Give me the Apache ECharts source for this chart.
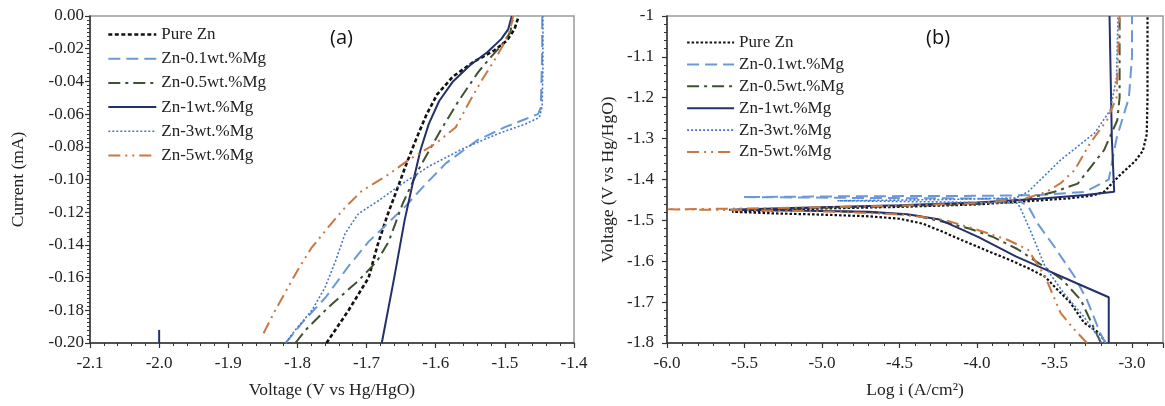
<!DOCTYPE html>
<html><head><meta charset="utf-8">
<script src="https://cdn.jsdelivr.net/npm/echarts@6/dist/echarts.min.js"></script>
<style>html,body{margin:0;padding:0;background:#fff}#c{width:1165px;height:406px}</style>
</head><body><div id="c"></div>
<script>
// ---- names ----
const seriesNames = ['Pure Zn','Zn-0.1wt.%Mg','Zn-0.5wt.%Mg','Zn-1wt.%Mg','Zn-3wt.%Mg','Zn-5wt.%Mg'];
// ---- panel (a): [voltage, current] ----
const a_pureZn = [[-1.758,-0.200],[-1.726,-0.180],[-1.697,-0.160],[-1.684,-0.140],[-1.670,-0.122],[-1.655,-0.105],[-1.642,-0.090],[-1.628,-0.075],[-1.613,-0.060],[-1.598,-0.048],[-1.575,-0.037],[-1.545,-0.028],[-1.515,-0.021],[-1.497,-0.015],[-1.486,-0.008],[-1.480,0]];
const a_zn01 = [[-1.817,-0.200],[-1.794,-0.188],[-1.759,-0.172],[-1.726,-0.153],[-1.697,-0.138],[-1.670,-0.127],[-1.643,-0.116],[-1.615,-0.103],[-1.585,-0.090],[-1.540,-0.076],[-1.500,-0.068],[-1.470,-0.063],[-1.452,-0.060],[-1.448,-0.056],[-1.447,-0.040],[-1.446,-0.020],[-1.446,0]];
const a_zn05 = [[-1.803,-0.200],[-1.788,-0.192],[-1.755,-0.178],[-1.712,-0.162],[-1.685,-0.150],[-1.668,-0.138],[-1.648,-0.115],[-1.625,-0.094],[-1.593,-0.070],[-1.567,-0.052],[-1.538,-0.034],[-1.520,-0.025],[-1.505,-0.018],[-1.492,-0.010],[-1.488,0]];
const a_zn1 = [[-1.678,-0.200],[-1.660,-0.160],[-1.645,-0.125],[-1.632,-0.100],[-1.622,-0.082],[-1.610,-0.066],[-1.595,-0.052],[-1.575,-0.040],[-1.550,-0.030],[-1.525,-0.022],[-1.505,-0.014],[-1.495,-0.008],[-1.490,0]];
const a_zn1mark = [[-2.000,-0.200],[-2.000,-0.192]];
const a_zn3 = [[-1.817,-0.200],[-1.803,-0.192],[-1.779,-0.180],[-1.760,-0.166],[-1.745,-0.150],[-1.731,-0.133],[-1.712,-0.121],[-1.683,-0.113],[-1.650,-0.103],[-1.610,-0.092],[-1.560,-0.081],[-1.510,-0.072],[-1.470,-0.066],[-1.450,-0.062],[-1.446,-0.055],[-1.445,-0.030],[-1.445,0]];
const a_zn5 = [[-1.849,-0.194],[-1.832,-0.180],[-1.815,-0.167],[-1.799,-0.155],[-1.780,-0.142],[-1.755,-0.129],[-1.733,-0.118],[-1.707,-0.107],[-1.672,-0.098],[-1.639,-0.088],[-1.600,-0.078],[-1.571,-0.068],[-1.552,-0.053],[-1.533,-0.039],[-1.515,-0.027],[-1.500,-0.016],[-1.492,-0.008],[-1.488,0]];
// ---- panel (b): [log i, voltage] ----
const b_pureZn = [[-3.17,-1.80],[-3.21,-1.776],[-3.31,-1.75],[-3.40,-1.70],[-3.48,-1.67],[-3.56,-1.638],[-3.68,-1.615],[-3.80,-1.595],[-3.95,-1.572],[-4.10,-1.548],[-4.22,-1.528],[-4.35,-1.508],[-4.50,-1.496],[-4.70,-1.490],[-5.00,-1.486],[-5.30,-1.483],[-5.58,-1.479],[-5.30,-1.475],[-5.00,-1.471],[-4.50,-1.467],[-4.00,-1.461],[-3.67,-1.453],[-3.40,-1.446],[-3.25,-1.439],[-3.18,-1.430],[-3.08,-1.390],[-2.98,-1.355],[-2.93,-1.330],[-2.905,-1.290],[-2.90,-1.20],[-2.90,-1.00]];
const b_zn01 = [[-3.17,-1.80],[-3.205,-1.776],[-3.29,-1.695],[-3.37,-1.638],[-3.50,-1.565],[-3.61,-1.507],[-3.67,-1.465],[-3.75,-1.448],[-4.2,-1.446],[-4.8,-1.445],[-5.51,-1.443],[-4.8,-1.441],[-4.0,-1.440],[-3.6,-1.438],[-3.3,-1.43],[-3.15,-1.40],[-3.10,-1.30],[-3.06,-1.25],[-3.02,-1.20],[-3.0,-1.10],[-3.0,-1.00]];
const b_zn05 = [[-3.20,-1.80],[-3.24,-1.768],[-3.33,-1.695],[-3.45,-1.645],[-3.60,-1.605],[-3.74,-1.570],[-3.90,-1.540],[-4.05,-1.520],[-4.20,-1.505],[-4.40,-1.488],[-4.70,-1.480],[-5.1,-1.476],[-5.55,-1.474],[-5.1,-1.470],[-4.6,-1.466],[-4.0,-1.460],[-3.7,-1.450],[-3.50,-1.43],[-3.35,-1.41],[-3.18,-1.328],[-3.095,-1.255],[-3.08,-1.20],[-3.08,-1.00]];
const b_zn1 = [[-3.15,-1.80],[-3.15,-1.688],[-3.35,-1.655],[-3.56,-1.620],[-3.75,-1.588],[-3.99,-1.541],[-4.10,-1.522],[-4.25,-1.497],[-4.45,-1.485],[-4.70,-1.479],[-5.2,-1.476],[-5.6,-1.474],[-5.2,-1.470],[-4.5,-1.463],[-4.0,-1.456],[-3.6,-1.447],[-3.3,-1.438],[-3.115,-1.430],[-3.13,-1.30],[-3.145,-1.00]];
const b_zn3 = [[-3.20,-1.80],[-3.205,-1.792],[-3.31,-1.736],[-3.44,-1.678],[-3.56,-1.614],[-3.65,-1.530],[-3.72,-1.470],[-3.74,-1.458],[-4.2,-1.455],[-4.9,-1.452],[-4.2,-1.449],[-3.75,-1.445],[-3.67,-1.430],[-3.46,-1.352],[-3.24,-1.286],[-3.14,-1.230],[-3.10,-1.15],[-3.09,-1.00]];
const b_zn5 = [[-3.29,-1.80],[-3.37,-1.768],[-3.46,-1.727],[-3.56,-1.638],[-3.67,-1.572],[-3.80,-1.548],[-3.99,-1.524],[-4.21,-1.499],[-4.5,-1.485],[-5.0,-1.478],[-5.5,-1.475],[-6.0,-1.473],[-5.5,-1.471],[-5.0,-1.468],[-4.5,-1.464],[-4.0,-1.458],[-3.7,-1.448],[-3.55,-1.430],[-3.46,-1.409],[-3.37,-1.377],[-3.27,-1.311],[-3.16,-1.254],[-3.10,-1.20],[-3.09,-1.10],[-3.08,-1.00]];

// ---- styles ----
const styles = {
  'Pure Zn':      {color:'#111111', width:2.6, type:[4,2.5]},
  'Zn-0.1wt.%Mg': {color:'#6b98d6', width:2,   type:[12,6]},
  'Zn-0.5wt.%Mg': {color:'#3f5230', width:2,   type:[12,5,3,5]},
  'Zn-1wt.%Mg':   {color:'#24306a', width:2,   type:'solid'},
  'Zn-3wt.%Mg':   {color:'#4677c8', width:1.6, type:[2,2]},
  'Zn-5wt.%Mg':   {color:'#c87840', width:2,   type:[12,5,2,5,2,5]}
};
const stylesB = Object.assign({}, styles, {'Pure Zn': {color:'#111111', width:2.2, type:[2.5,2]}});

const serif = 'Liberation Serif';
const tickFont = 17;
const nameFont = 17.5;
function line(name, data, xi, st, legend) {
  return {type:'line', name: legend===false ? '_' + name : name, data, xAxisIndex:xi, yAxisIndex:xi,
    symbol:'none', showSymbol:false, smooth:false, animation:false, silent:true, z:3,
    lineStyle:{color:st.color, width:st.width, type:st.type}, itemStyle:{color:st.color}};
}
function axisCommon(extra){
  return Object.assign({
    axisLine:{onZero:false, lineStyle:{color:'#333', width:1.5}},
    axisTick:{show:true, inside:false, length:5, lineStyle:{color:'#333', width:1.2}},
    splitLine:{show:false},
    nameTextStyle:{fontFamily:serif, fontSize:nameFont, color:'#222'},
    nameLocation:'middle'
  }, extra);
}
function legendData(st){
  return seriesNames.map(n => ({name:n,
    lineStyle:{color:st[n].color, width:st[n].width, type:st[n].type},
    itemStyle:{color:'rgba(0,0,0,0)', borderWidth:0, opacity:0}}));
}
const minor = (n) => ({show:true, splitNumber:n, length:3, lineStyle:{color:'#333', width:1}});

const option = {
  backgroundColor:'#fff',
  animation:false,
  grid:[
    {left:90, right:591, top:16, bottom:63, show:true, borderColor:'#9a9a9a', borderWidth:1.5, backgroundColor:'transparent'},
    {left:667, right:2, top:16, bottom:63, show:true, borderColor:'#9a9a9a', borderWidth:1.5, backgroundColor:'transparent'}
  ],
  xAxis:[
    axisCommon({gridIndex:0, type:'value', min:-2.1, max:-1.4, interval:0.1, name:'Voltage (V vs Hg/HgO)', nameGap:38,
      minorTick:minor(5),
      axisLabel:{fontFamily:serif, fontSize:tickFont, color:'#222', margin:12, formatter:v=>v.toFixed(1)}}),
    axisCommon({gridIndex:1, type:'value', min:-6, max:-2.8, interval:0.5, name:'Log i (A/cm²)', nameGap:38,
      minorTick:minor(5),
      axisLabel:{fontFamily:serif, fontSize:tickFont, color:'#222', margin:12, showMaxLabel:false, formatter:v=>v.toFixed(1)}})
  ],
  yAxis:[
    axisCommon({gridIndex:0, type:'value', min:-0.2, max:0, interval:0.02, name:'Current (mA)', nameGap:63,
      minorTick:minor(8),
      axisLabel:{fontFamily:serif, fontSize:tickFont, color:'#222', margin:6, formatter:v=>v.toFixed(2)}}),
    axisCommon({gridIndex:1, type:'value', min:-1.8, max:-1, interval:0.1, name:'Voltage (V vs Hg/HgO)', nameGap:50,
      minorTick:minor(5),
      axisLabel:{fontFamily:serif, fontSize:tickFont, color:'#222', margin:13, formatter:v=>String(Math.round(v*10)/10)}})
  ],
  legend:[
    {orient:'vertical', left:107, top:26, padding:0, itemWidth:48, itemHeight:12, itemGap:7.2,
      textStyle:{fontFamily:serif, fontSize:17, color:'#222'}, data:legendData(styles), selectedMode:false},
    {orient:'vertical', left:686, top:34, padding:0, itemWidth:47, itemHeight:12, itemGap:4.9,
      textStyle:{fontFamily:serif, fontSize:17, color:'#222'}, data:legendData(stylesB), selectedMode:false}
  ],
  graphic:[
    {type:'text', left:330, top:28, style:{text:'(a)', font:'20px "Open Sans"', fill:'#111'}},
    {type:'text', left:926, top:28, style:{text:'(b)', font:'20px "Open Sans"', fill:'#111'}}
  ],
  series:[
    line('Pure Zn', a_pureZn, 0, styles['Pure Zn']),
    line('Zn-0.1wt.%Mg', a_zn01, 0, styles['Zn-0.1wt.%Mg']),
    line('Zn-0.5wt.%Mg', a_zn05, 0, styles['Zn-0.5wt.%Mg']),
    line('Zn-1wt.%Mg', a_zn1, 0, styles['Zn-1wt.%Mg']),
    line('Zn-3wt.%Mg', a_zn3, 0, styles['Zn-3wt.%Mg']),
    line('Zn-5wt.%Mg', a_zn5, 0, styles['Zn-5wt.%Mg']),
    line('Zn-1wt.%Mg mark', a_zn1mark, 0, styles['Zn-1wt.%Mg'], false),
    line('Pure Zn', b_pureZn, 1, stylesB['Pure Zn']),
    line('Zn-0.1wt.%Mg', b_zn01, 1, stylesB['Zn-0.1wt.%Mg']),
    line('Zn-0.5wt.%Mg', b_zn05, 1, stylesB['Zn-0.5wt.%Mg']),
    line('Zn-1wt.%Mg', b_zn1, 1, stylesB['Zn-1wt.%Mg']),
    line('Zn-3wt.%Mg', b_zn3, 1, stylesB['Zn-3wt.%Mg']),
    line('Zn-5wt.%Mg', b_zn5, 1, stylesB['Zn-5wt.%Mg'])
  ]
};
const chart = echarts.init(document.getElementById('c'), null, {renderer:'canvas'});
chart.setOption(option);
</script></body></html>
